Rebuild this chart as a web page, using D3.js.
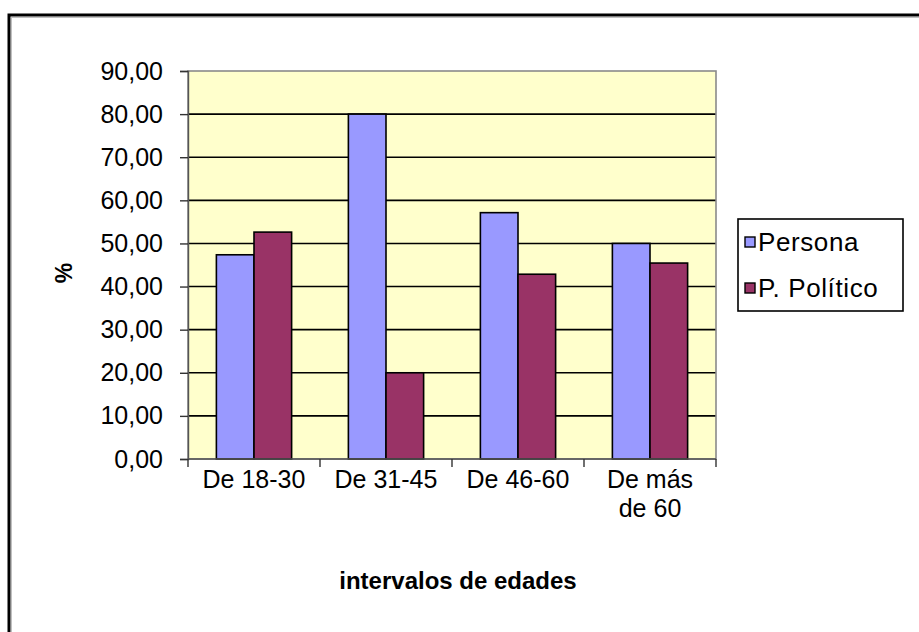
<!DOCTYPE html>
<html>
<head>
<meta charset="utf-8">
<script src="https://cdn.jsdelivr.net/npm/d3@7"></script>
<style>
  body { margin: 0; background: #fff; }
  svg { display: block; font-family: "Liberation Sans", Arial, sans-serif; }
</style>
</head>
<body>
<svg id="chart" width="919" height="632"></svg>
<script>
// data
const categories = ["De 18-30", "De 31-45", "De 46-60", "De más de 60"];
const seriesNames = ["Persona", "P. Político"];
const persona = [47.37, 80.0, 57.14, 50.0];
const politico = [52.63, 20.0, 42.86, 45.45];
const yTicks = [0, 10, 20, 30, 40, 50, 60, 70, 80, 90];
const catLines = [["De 18-30"], ["De 31-45"], ["De 46-60"], ["De más", "de 60"]];

const colors = ["#9999ff", "#993366"];
const plot = { left: 188, right: 716, top: 71, bottom: 459 };
const fontSize = 25;

const svg = d3.select("#chart");

// outer frame (runs off the right and bottom edges)
svg.append("rect")
  .attr("x", 9).attr("y", 15)
  .attr("width", 940).attr("height", 660)
  .attr("fill", "#fff")
  .attr("stroke", "#000")
  .attr("stroke-width", 3);
svg.append("rect")
  .attr("x", 11.5).attr("y", 17.5)
  .attr("width", 940).attr("height", 660)
  .attr("fill", "none")
  .attr("stroke", "#c0c0c0")
  .attr("stroke-width", 1);

const y = d3.scaleLinear().domain([0, 90]).range([plot.bottom, plot.top]);
const x0 = d3.scaleBand()
  .domain(categories)
  .range([plot.left, plot.right])
  .paddingInner(0.43)
  .paddingOuter(0.215);
const x1 = d3.scaleBand().domain(seriesNames).range([0, x0.bandwidth()]);

// plot background
svg.append("rect")
  .attr("x", plot.left).attr("y", plot.top)
  .attr("width", plot.right - plot.left)
  .attr("height", plot.bottom - plot.top)
  .attr("fill", "#ffffcc");

// gridlines
svg.append("g")
  .selectAll("line")
  .data(yTicks.filter((d) => d > 0 && d < 90))
  .join("line")
  .attr("x1", plot.left).attr("x2", plot.right)
  .attr("y1", (d) => y(d)).attr("y2", (d) => y(d))
  .attr("stroke", "#000")
  .attr("stroke-width", 1.6);

// plot border (gray)
svg.append("rect")
  .attr("x", plot.left).attr("y", plot.top)
  .attr("width", plot.right - plot.left)
  .attr("height", plot.bottom - plot.top)
  .attr("fill", "none")
  .attr("stroke", "#8a8a8a")
  .attr("stroke-width", 1.6);

// bars
const rows = categories.map((c, i) => ({ cat: c, values: [persona[i], politico[i]] }));
svg.append("g")
  .selectAll("g")
  .data(rows)
  .join("g")
  .attr("transform", (d) => `translate(${x0(d.cat)},0)`)
  .selectAll("rect")
  .data((d) => d.values.map((v, i) => ({ name: seriesNames[i], value: v, i })))
  .join("rect")
  .attr("x", (d) => x1(d.name))
  .attr("y", (d) => y(d.value))
  .attr("width", x1.bandwidth())
  .attr("height", (d) => y(0) - y(d.value))
  .attr("fill", (d) => colors[d.i])
  .attr("stroke", "#000")
  .attr("stroke-width", 1.6);

// y axis
const yAxis = svg.append("g")
  .attr("transform", `translate(${plot.left},0)`)
  .call(
    d3.axisLeft(y)
      .tickValues(yTicks)
      .tickFormat((d) => d.toFixed(2).replace(".", ","))
      .tickSize(8)
      .tickPadding(17)
  );
yAxis.select(".domain").attr("stroke", "#555").attr("stroke-width", 1.4);
yAxis.selectAll(".tick line").attr("stroke", "#333").attr("stroke-width", 1.4);
yAxis.selectAll("text")
  .attr("font-size", fontSize)
  .attr("font-family", "Liberation Sans, Arial, sans-serif")
  .attr("fill", "#000");

// x axis: ticks at category boundaries
const step = x0.step();
const bounds = d3.range(categories.length + 1).map((i) => plot.left + i * step);
const xAxisG = svg.append("g");
xAxisG.append("line")
  .attr("x1", plot.left).attr("x2", plot.right)
  .attr("y1", plot.bottom).attr("y2", plot.bottom)
  .attr("stroke", "#555").attr("stroke-width", 1.4);
xAxisG.selectAll("line.tk")
  .data(bounds)
  .join("line")
  .attr("class", "tk")
  .attr("x1", (d) => d).attr("x2", (d) => d)
  .attr("y1", plot.bottom).attr("y2", plot.bottom + 8)
  .attr("stroke", "#333").attr("stroke-width", 1.4);

xAxisG.selectAll("text.cat")
  .data(categories)
  .join("text")
  .attr("class", "cat")
  .attr("x", (d) => x0(d) + x0.bandwidth() / 2)
  .attr("y", 488)
  .attr("text-anchor", "middle")
  .attr("font-size", fontSize)
  .selectAll("tspan")
  .data((d, i) => catLines[i])
  .join("tspan")
  .attr("x", function () { return d3.select(this.parentNode).attr("x"); })
  .attr("dy", (d, i) => (i === 0 ? 0 : 29))
  .text((d) => d);

// axis titles
svg.append("text")
  .attr("x", 458).attr("y", 589)
  .attr("text-anchor", "middle")
  .attr("font-size", 24)
  .attr("font-weight", "bold")
  .text("intervalos de edades");

svg.append("text")
  .attr("transform", "translate(72,273) rotate(-90)")
  .attr("text-anchor", "middle")
  .attr("font-size", 23)
  .attr("font-weight", "bold")
  .text("%");

// legend
const legend = svg.append("g").attr("transform", "translate(738,219)");
legend.append("rect")
  .attr("width", 165).attr("height", 92)
  .attr("fill", "#fff")
  .attr("stroke", "#000")
  .attr("stroke-width", 1.6);
const items = legend.selectAll("g.item")
  .data(seriesNames)
  .join("g")
  .attr("class", "item")
  .attr("transform", (d, i) => `translate(0,${23 + i * 46})`);
items.append("rect")
  .attr("x", 7).attr("y", -5)
  .attr("width", 10).attr("height", 10)
  .attr("fill", (d, i) => colors[i])
  .attr("stroke", "#000")
  .attr("stroke-width", 1.4);
items.append("text")
  .attr("x", 20).attr("y", 9)
  .attr("font-size", 26)
  .attr("letter-spacing", 0.6)
  .text((d) => d);
</script>
</body>
</html>
